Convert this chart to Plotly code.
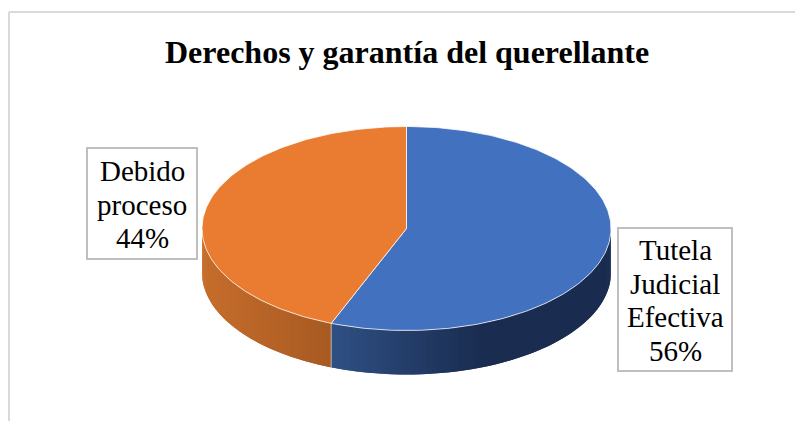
import math
import plotly.graph_objects as go

# Chart content
title = "Derechos y garantía del querellante"
categories = ["Tutela Judicial Efectiva", "Debido proceso"]
values = [56, 44]
top_colors = ["#4271C0", "#EA7C31"]
wall_light = [(47, 80, 132), (198, 109, 44)]
wall_dark = [(26, 44, 80), (168, 90, 34)]

# Geometry of the tilted disc, in page pixels
CX, CY, RX, RY, DEPTH = 406.5, 228.5, 204.5, 102, 44
W, H = 795, 421
FONT = "Liberation Serif"


def rim(deg, drop=0.0):
    t = math.radians(deg)
    return CX + RX * math.sin(t), CY - RY * math.cos(t) + drop


def arc(a, b, step=1.0):
    n = max(1, int(abs(b - a) / step))
    return [rim(a + (b - a) * i / n) for i in range(n + 1)]


def polygon(points, fill, line="rgba(0,0,0,0)", width=0):
    xs = [p[0] for p in points] + [points[0][0]]
    ys = [p[1] for p in points] + [points[0][1]]
    return go.Scatter(x=xs, y=ys, mode="lines", fill="toself", fillcolor=fill,
                      line=dict(color=line, width=width), hoverinfo="skip",
                      showlegend=False)


def mix(a, b, f):
    return "rgb({:.0f},{:.0f},{:.0f})".format(*[a[k] + (b[k] - a[k]) * f for k in range(3)])


total = sum(values)
spans = []
start = 0.0
for v in values:
    spans.append((start, start + 360.0 * v / total))
    start += 360.0 * v / total

seam_x = rim(spans[0][1])[0]
fig = go.Figure()

# Outer wall: only the front half shows; shading depends on horizontal position
for idx, (a, b) in enumerate(spans):
    lo, hi = max(a, 90.0), min(b, 270.0)
    n = int(hi - lo)
    for i in range(n):
        s0 = lo + (hi - lo) * i / n
        s1 = lo + (hi - lo) * (i + 1) / n
        mid_x = rim((s0 + s1) / 2)[0]
        if idx == 0:
            # blue wall: lightest at the seam, fully dark about 150 px to its right
            f = min(1.0, max(0.0, (mid_x - seam_x) / 150.0))
            color = mix(wall_light[0], wall_dark[0], f)
        else:
            # orange wall: darkens toward the seam
            f = min(1.0, max(0.0, (mid_x - (CX - RX)) / (seam_x - (CX - RX))))
            color = mix(wall_light[1], wall_dark[1], f)
        quad = [rim(s0), rim(s1 + 1.0), rim(s1 + 1.0, DEPTH), rim(s0, DEPTH)]
        fig.add_trace(polygon(quad, color))

# Top face wedges
for (a, b), col in zip(spans, top_colors):
    pts = [(CX, CY)] + arc(a, b)
    fig.add_trace(polygon(pts, col, "rgba(255,255,255,0.75)", 1))

# Seam on the wall between the two slices
sx, sy = rim(spans[0][1])
sx2, sy2 = rim(spans[0][1], DEPTH)
fig.add_trace(go.Scatter(x=[sx, sx2], y=[sy, sy2], mode="lines",
                         line=dict(color="rgba(255,255,255,0.55)", width=1),
                         hoverinfo="skip", showlegend=False))

# Data label boxes, one text line at a time for tight leading
label_boxes = [(618, 228, 732, 371, 250), (87, 148, 197, 259, 171)]
LEADING = 33.5
shapes = [
    # outer chart frame, open at the right and bottom
    dict(type="line", xref="x", yref="y", x0=9, y0=12, x1=795, y1=12,
         line=dict(color="#D9D9D9", width=2)),
    dict(type="line", xref="x", yref="y", x0=9, y0=12, x1=9, y1=421,
         line=dict(color="#D9D9D9", width=2)),
]
annotations = []
for cat, val, (x0, y0, x1, y1, first) in zip(categories, values, label_boxes):
    shapes.append(dict(type="rect", xref="x", yref="y", x0=x0, y0=y0, x1=x1, y1=y1,
                       fillcolor="white", line=dict(color="#BFBFBF", width=2)))
    lines = cat.split() + [f"{val}%"]
    for i, text in enumerate(lines):
        annotations.append(dict(x=(x0 + x1) / 2, y=first + i * LEADING, xref="x", yref="y",
                                text=text, showarrow=False, xanchor="center", yanchor="middle",
                                font=dict(family=FONT, size=29, color="#000000")))

annotations.append(dict(x=406.5, y=52, xref="x", yref="y", text=f"<b>{title}</b>", showarrow=False,
                        xanchor="center", yanchor="middle",
                        font=dict(family=FONT, size=32, color="#000000")))

fig.update_layout(
    width=W, height=H, margin=dict(l=0, r=0, t=0, b=0),
    paper_bgcolor="white", plot_bgcolor="white", showlegend=False,
    xaxis=dict(range=[0, W], visible=False, fixedrange=True),
    yaxis=dict(range=[H, 0], visible=False, fixedrange=True),
    shapes=shapes, annotations=annotations,
)

fig.write_html("out.html", config={"displayModeBar": False})
